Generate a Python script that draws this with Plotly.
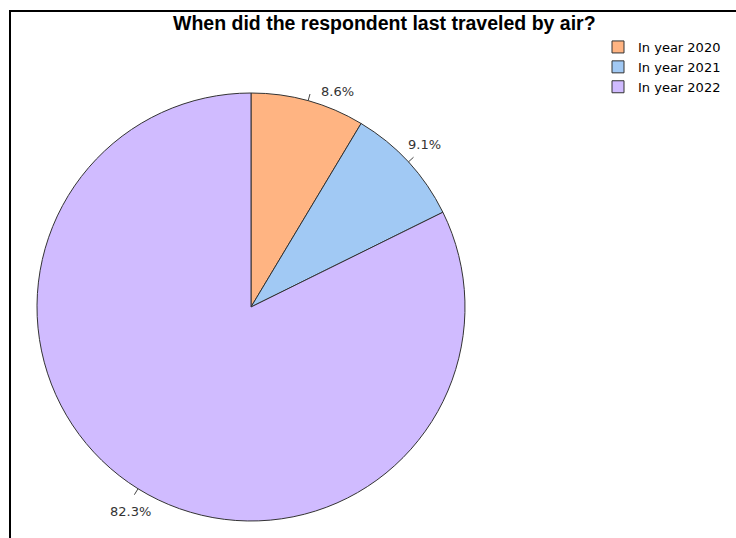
import math
import plotly.graph_objects as go

# ---- data ----
labels = ["In year 2020", "In year 2021", "In year 2022"]
values = [8.6, 9.1, 82.3]
colors = ["#FFB482", "#A1C9F4", "#D0BBFF"]
title = "When did the respondent last traveled by air?"

# ---- layout/style ----
W, H = 736, 538
CX, CY, R = 251, 307, 214          # pie centre and radius in px
TICK = 7                            # leader tick length in px
# per-label text offset (px) from the pie edge point
label_offsets = [(29, -9), (16, -17), (-8, 23)]

def px(x):
    return x / W

def py(y):
    return 1 - y / H

fig = go.Figure()
fig.add_trace(go.Pie(
    labels=labels,
    values=values,
    sort=False,
    direction="clockwise",
    rotation=0,
    textinfo="none",
    hoverinfo="label+percent",
    marker=dict(colors=colors, line=dict(color="#333333", width=1)),
    domain=dict(x=[px(CX - R), px(CX + R)], y=[py(CY + R), py(CY - R)]),
))

shapes = []
annotations = []
total = sum(values)
cum = 0.0
for v, (dx, dy) in zip(values, label_offsets):
    mid = (cum + v / 2) / total * 2 * math.pi
    cum += v
    s, c = math.sin(mid), math.cos(mid)
    ex, ey = CX + R * s, CY - R * c
    tx, ty = CX + (R + TICK) * s, CY - (R + TICK) * c
    shapes.append(dict(type="line", xref="paper", yref="paper",
                       x0=px(ex), y0=py(ey), x1=px(tx), y1=py(ty),
                       line=dict(color="#444444", width=1)))
    annotations.append(dict(xref="paper", yref="paper", x=px(ex), y=py(ey),
                            text=f"{v:.1f}%", showarrow=False,
                            xanchor="center", yanchor="middle",
                            xshift=dx, yshift=-dy,
                            font=dict(family="DejaVu Sans", size=13, color="#333333")))

# frame (top and left border)
shapes.append(dict(type="rect", xref="paper", yref="paper",
                   x0=px(10), x1=px(W + 20), y0=py(H + 20), y1=py(11),
                   line=dict(color="black", width=2), fillcolor="rgba(0,0,0,0)"))

annotations.append(dict(xref="paper", yref="paper", x=px(384), y=py(23),
                        text=f"<b>{title}</b>", showarrow=False,
                        xanchor="center", yanchor="middle",
                        font=dict(family="Liberation Sans", size=19.5, color="black")))

fig.update_layout(
    width=W, height=H,
    margin=dict(l=0, r=0, t=0, b=0),
    paper_bgcolor="white",
    plot_bgcolor="white",
    showlegend=True,
    legend=dict(x=px(598), y=py(32), xanchor="left", yanchor="top",
                font=dict(family="DejaVu Sans", size=13, color="black"),
                bgcolor="rgba(0,0,0,0)", traceorder="normal"),
    shapes=shapes,
    annotations=annotations,
)

fig.write_html("out.html")
